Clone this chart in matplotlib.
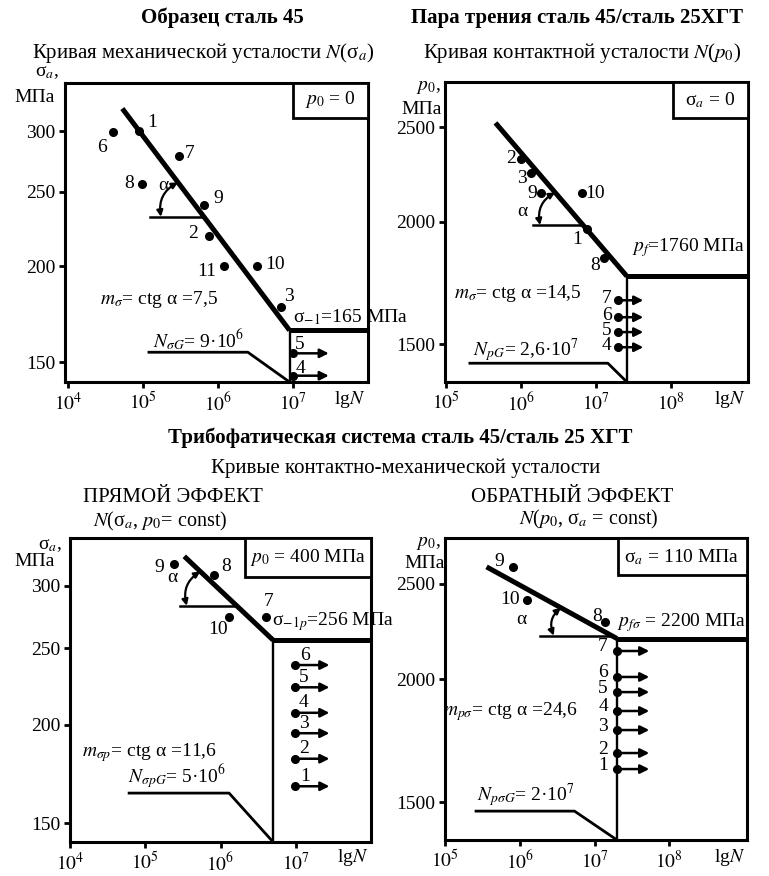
import numpy as np
import matplotlib
matplotlib.use('Agg')
import matplotlib.pyplot as plt
from matplotlib.patches import Rectangle, FancyArrowPatch
from matplotlib.transforms import IdentityTransform
from matplotlib.ticker import NullLocator

plt.rcParams['font.family'] = ['Liberation Serif', 'DejaVu Serif']
plt.rcParams['mathtext.fontset'] = 'stix'

W, H = 769, 876

# --- Образец сталь 45, кривая механической усталости N(sigma_a)
mech_line_n = [5.3e4, 9e6]
mech_line_s = [321, 165]
mech_pts = ['1', '2', '3', '4', '5', '6', '7', '8', '9', '10', '11']
mech_n = [8.8e4, 7.6e5, 6.9e6, 1.0e7, 1.0e7, 4.0e4, 3.0e5, 9.7e4, 6.5e5, 3.3e6, 1.2e6]
mech_s = [300, 219, 177, 144, 154, 299, 278, 256, 240, 200, 200]
mech_runout = ['4', '5']
mech_runout_end = 3.0e7
mech_guide_n = [1.2e5, 2.5e6]
mech_guide_s = 154.5
mech_alpha_s = 232

# --- Пара трения, кривая контактной усталости N(p0)
cont_line_n = [4.6e5, 2.6e7]
cont_line_p = [2525, 1760]
cont_pts = ['1', '2', '3', '4', '5', '6', '7', '8', '9', '10']
cont_n = [7.6e6, 1.0e6, 1.35e6, 1.95e7, 1.95e7, 1.95e7, 1.95e7, 1.29e7, 1.85e6, 6.5e6]
cont_p = [1967, 2318, 2243, 1489, 1543, 1598, 1663, 1837, 2140, 2140]
cont_runout = ['4', '5', '6', '7']
cont_runout_end = 4.3e7
cont_guide_n = [2.1e5, 1.45e7]
cont_guide_p = 1434
cont_alpha_p = 1985

# --- Прямой эффект N(sigma_a, p0 = const)
dir_line_n = [3.3e5, 5e6]
dir_line_s = [327, 256]
dir_pts = ['1', '2', '3', '4', '5', '6', '7', '8', '9', '10']
dir_n = [9.7e6, 9.7e6, 9.7e6, 9.7e6, 9.7e6, 9.7e6, 4.0e6, 8.3e5, 2.4e5, 1.3e6]
dir_s = [167, 181, 195, 207, 223, 238, 274, 310, 320, 274]
dir_runout = ['1', '2', '3', '4', '5', '6']
dir_runout_end = 2.8e7
dir_guide_n = [6.1e4, 1.3e6]
dir_guide_s = 163.7
dir_alpha_s = 283

# --- Обратный эффект N(p0, sigma_a = const)
rev_line_n = [3.6e5, 2e7]
rev_line_p = [2602, 2200]
rev_pts = ['1', '2', '3', '4', '5', '6', '7', '8', '9', '10']
rev_n = [2e7, 2e7, 2e7, 2e7, 2e7, 2e7, 2e7, 1.4e7, 8.1e5, 1.24e6]
rev_p = [1621, 1683, 1776, 1857, 1941, 2011, 2137, 2287, 2602, 2408]
rev_runout = ['1', '2', '3', '4', '5', '6', '7']
rev_runout_end = 5.4e7
rev_guide_n = [2.6e5, 5.4e6]
rev_guide_p = 1469
rev_alpha_p = 2215

FS = 14

fig = plt.figure(figsize=(W / 100, H / 100), dpi=100)


def txt(x, y, s, size=FS, ha='center', **kw):
    fig.text(x / W, 1 - y / H, s, fontsize=size, ha=ha, va='center', **kw)


def make_axes(box, xlim, ylim, xticks, yticks):
    x0, y0, x1, y1 = box
    ax = fig.add_axes([x0 / W, 1 - y1 / H, (x1 - x0) / W, (y1 - y0) / H])
    ax.set_xscale('log')
    ax.set_yscale('log')
    ax.set_xlim(*xlim)
    ax.set_ylim(*ylim)
    ax.set_xticks(xticks)
    ax.set_xticklabels(['$10^{%d}$' % round(np.log10(t)) for t in xticks])
    ax.set_yticks(yticks)
    ax.set_yticklabels([str(t) for t in yticks])
    ax.xaxis.set_minor_locator(NullLocator())
    ax.yaxis.set_minor_locator(NullLocator())
    ax.tick_params(direction='out', length=4, width=2, labelsize=FS, pad=3)
    for sp in ax.spines.values():
        sp.set_linewidth(2.2)
    return ax


def draw_curve(ax, line_n, line_y, names, n, y, runout, runout_end,
               guide_n, guide_y, alpha_y, offsets, inset, arc_r, hlen, rad):
    x_right = ax.get_xlim()[1]
    y_bottom = ax.get_ylim()[0]
    # inclined part and the fatigue limit
    ax.plot(line_n, line_y, color='k', lw=3.6, solid_capstyle='butt', zorder=4)
    ax.plot([line_n[1], x_right], [line_y[1]] * 2, color='k', lw=3.6,
            solid_capstyle='butt', zorder=4)
    ax.plot([line_n[1]] * 2, [line_y[1], y_bottom], color='k', lw=1.7, zorder=3)
    # N_G guide
    ax.plot(guide_n + [line_n[1]], [guide_y, guide_y, y_bottom], color='k',
            lw=2.0, zorder=3)
    # run-out arrows
    for name, xn, yv in zip(names, n, y):
        if name in runout:
            ax.annotate('', xy=(runout_end, yv), xytext=(xn, yv),
                        arrowprops=dict(arrowstyle='-|>', color='k', lw=1.8,
                                        mutation_scale=13, shrinkA=0, shrinkB=0),
                        zorder=5)
    ax.plot(n, y, 'o', color='k', ms=5.5, zorder=6)
    for name, xn, yv, off in zip(names, n, y, offsets):
        ax.annotate(name, (xn, yv), xytext=off, textcoords='offset pixels',
                    ha='center', va='center', fontsize=FS)
    # angle alpha
    lx, ly = np.log10(line_n), np.log10(line_y)
    n_int = 10 ** np.interp(np.log10(alpha_y), ly[::-1], lx[::-1])
    fig.canvas.draw()
    to_px = ax.transData.transform
    p = to_px((n_int, alpha_y))
    q = to_px((line_n[0], line_y[0]))
    u = (q - p) / np.hypot(*(q - p))
    ax.plot([ax.transData.inverted().transform(p - [hlen, 0])[0], n_int],
            [alpha_y, alpha_y], color='k', lw=1.8, zorder=3)
    arc = FancyArrowPatch(posA=p + arc_r * u, posB=p - [arc_r, 0],
                          transform=IdentityTransform(),
                          connectionstyle='arc3,rad=%.2f' % rad,
                          arrowstyle='<|-|>', mutation_scale=9, lw=1.6,
                          color='k', shrinkA=0, shrinkB=0)
    fig.add_artist(arc)
    x0, y0 = inset
    ax.add_patch(Rectangle((x0, y0), 1 - x0, 1 - y0, transform=ax.transAxes,
                           facecolor='white', edgecolor='k', lw=2.0,
                           clip_on=False, zorder=7))


# top-left panel
ax1 = make_axes((65, 83, 368, 382), (10 ** 3.96, 1e8), (141.3, 346.6),
                [1e4, 1e5, 1e6, 1e7], [150, 200, 250, 300])
draw_curve(ax1, mech_line_n, mech_line_s, mech_pts, mech_n, mech_s,
           mech_runout, mech_runout_end, mech_guide_n, mech_guide_s,
           mech_alpha_s,
           [(13, 9), (-16, 2), (8, 10), (7, 7), (7, 9), (-11, -15), (11, 3),
            (-13, 0), (14, 7), (18, 2), (-17, -5)],
           (0.752, 0.883), 43, 54, 0.35)

# top-right panel
ax2 = make_axes((445, 82, 748, 382), (10 ** 4.99, 10 ** 9.03), (1372, 2780),
                [1e5, 1e6, 1e7, 1e8], [1500, 2000, 2500])
draw_curve(ax2, cont_line_n, cont_line_p, cont_pts, cont_n, cont_p,
           cont_runout, cont_runout_end, cont_guide_n, cont_guide_p,
           cont_alpha_p,
           [(-10, -11), (-10, 1), (-9, -5), (-11, 2), (-11, 2), (-11, 2),
            (-11, 2), (-9, -7), (-9, 0), (13, 0)],
           (0.752, 0.88), 43, 50, 0.35)

# bottom-left panel
ax3 = make_axes((70, 538, 371, 842), (1e4, 1e8), (141.9, 345),
                [1e4, 1e5, 1e6, 1e7], [150, 200, 250, 300])
draw_curve(ax3, dir_line_n, dir_line_s, dir_pts, dir_n, dir_s,
           dir_runout, dir_runout_end, dir_guide_n, dir_guide_s,
           dir_alpha_s,
           [(10, 10), (9, 10), (9, 10), (9, 10), (9, 10), (10, 10), (3, 15),
            (12, 8), (-15, -4), (-11, -13)],
           (0.581, 0.872), 50, 57, 0.35)

# bottom-right panel
ax4 = make_axes((445, 538, 747, 840), (1e5, 10 ** 9.04), (1373, 2784),
                [1e5, 1e6, 1e7, 1e8], [1500, 2000, 2500])
draw_curve(ax4, rev_line_n, rev_line_p, rev_pts, rev_n, rev_p,
           rev_runout, rev_runout_end, rev_guide_n, rev_guide_p,
           rev_alpha_p,
           [(-14, 4)] * 7 + [(-8, 6), (-14, 5), (-17, 0)],
           (0.573, 0.877), 58, 72, 0.35)

# headings
txt(222, 18, 'Образец сталь 45', size=15, weight='bold')
txt(203, 53, 'Кривая механической усталости $N$(σ$_a$)', size=15)
txt(577, 18, 'Пара трения сталь 45/сталь 25ХГТ', size=15, weight='bold')
txt(582, 53, 'Кривая контактной усталости $N$($p_0$)', size=15)
txt(400, 438, 'Трибофатическая система сталь 45/сталь 25 ХГТ', size=15,
    weight='bold')
txt(406, 468, 'Кривые контактно-механической усталости', size=15)
txt(173, 497, 'ПРЯМОЙ ЭФФЕКТ', size=15)
txt(160, 521, '$N$(σ$_a$, $p_0$= const)', size=14.5)
txt(572, 497, 'ОБРАТНЫЙ ЭФФЕКТ', size=15)
txt(589, 519, '$N$($p_0$, σ$_a$ = const)', size=14.5)

# axis captions
txt(47, 72, 'σ$_a$,')
txt(35, 98, 'МПа')
txt(428, 88, '$p_0$,')
txt(422, 110, 'МПа')
txt(50, 545, 'σ$_a$,')
txt(35, 561, 'МПа')
txt(428, 543, '$p_0$,')
txt(425, 563, 'МПа')
for x, y in [(350, 400), (730, 400), (353, 857), (730, 857)]:
    txt(x, y, 'lg$N$')

# inset captions
txt(330, 100, '$p_0$ = 0')
txt(710, 100, 'σ$_a$ = 0')
txt(308, 557, '$p_0$ = 400 МПа')
txt(682, 557, 'σ$_a$ = 110 МПа')

# curve annotations
txt(100, 300, '$m_{\\sigma}$= ctg α =7,5', ha='left')
txt(293, 317, 'σ$_{-1}$=165 МПа', ha='left')
txt(153, 340, '$N_{\\sigma G}$= 9·10$^{6}$', ha='left')
txt(163, 186, 'α')
txt(454, 293, '$m_{\\sigma}$= ctg α =14,5', ha='left')
txt(632, 248, '$p_f$=1760 МПа', ha='left')
txt(473, 350, '$N_{pG}$= 2,6·10$^{7}$', ha='left')
txt(522, 212, 'α')
txt(82, 753, '$m_{\\sigma p}$= ctg α =11,6', ha='left')
txt(272, 622, 'σ$_{-1p}$=256 МПа', ha='left')
txt(128, 777, '$N_{\\sigma pG}$= 5·10$^{6}$', ha='left')
txt(172, 578, 'α')
txt(443, 712, '$m_{p\\sigma}$= ctg α =24,6', ha='left')
txt(617, 623, '$p_{f\\sigma}$ = 2200 МПа', ha='left')
txt(477, 795, '$N_{p\\sigma G}$= 2·10$^{7}$', ha='left')
txt(521, 619, 'α')

fig.savefig('out.png', dpi=100)
